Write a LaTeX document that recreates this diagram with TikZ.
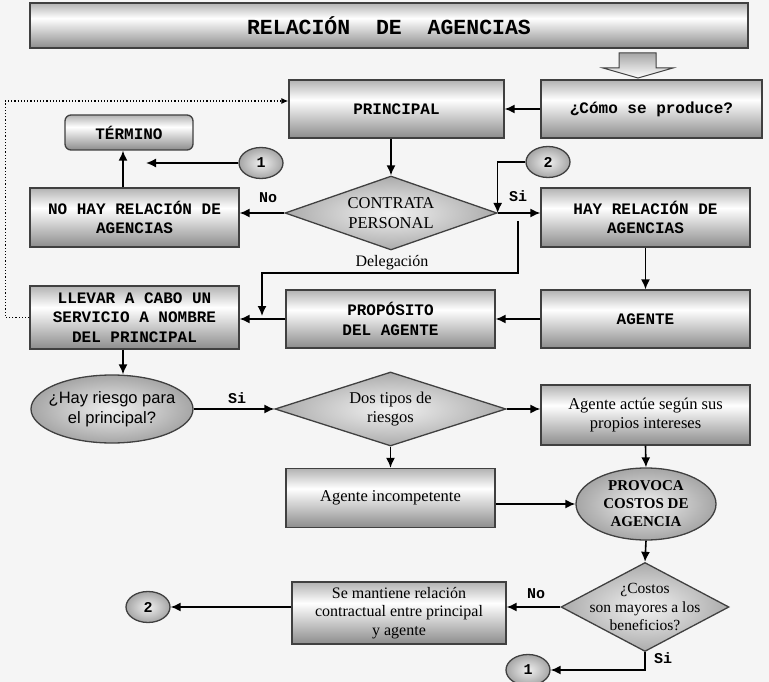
\documentclass[tikz,border=0pt]{standalone}
\usepackage{fontspec}
\setmainfont{Liberation Serif}
\setsansfont{Liberation Sans}
\setmonofont{Liberation Mono}
\usepackage{tikz}
\usetikzlibrary{shapes.geometric, arrows.meta}

\pgfdeclareverticalshading{caja}{100bp}{color(0bp)=(black!45); color(25bp)=(black!45); color(58bp)=(white); color(75bp)=(black!30); color(100bp)=(black!30)}

\tikzset{
    caja/.style={draw=black!75, line width=1.3pt, shade, shading=caja, rectangle, align=center,
        inner sep=2pt, font=\ttfamily\bfseries\fontsize{16}{19.5}\selectfont},
    cajatx/.style={caja, font=\fontsize{16.5}{19.5}\selectfont},
    rombo/.style={draw=black!75, line width=1.3pt, diamond, inner sep=-15pt, inner color=black!5,
        outer color=black!33, align=center, font=\fontsize{16.5}{19.5}\selectfont},
    elipse/.style={draw=black!75, line width=1.3pt, ellipse, inner sep=-10pt, inner color=black!6,
        outer color=black!35, align=center},
    circulo/.style={elipse, inner sep=0pt, minimum width=44pt, minimum height=31pt,
        font=\ttfamily\bfseries\fontsize{15}{15}\selectfont},
    flecha/.style={->, line width=1.6pt},
    etiq/.style={inner sep=0pt, font=\ttfamily\bfseries\fontsize{15}{15}\selectfont},
}

\begin{document}
\begin{tikzpicture}[>={Latex[length=10pt, width=9pt]}, x=1pt, y=-1pt]
    % 0. Nền của hình
    \useasboundingbox (0,0) rectangle (769,682);
    \fill[black!4] (0,0) rectangle (769,682);

    % 1. Tiêu đề và mũi tên lớn
    \node[caja, minimum width=718pt, minimum height=45pt,
        font=\ttfamily\bfseries\fontsize{21.5}{24}\selectfont] (titulo) at (389,25.5)
        {RELACIÓN\ \ DE\ \ AGENCIAS};
    \shade[top color=black!35, bottom color=white, draw=black!75, line width=1pt]
        (619,53) -- (656,53) -- (656,68) -- (673,68) -- (638,78) -- (603,68) -- (619,68) -- cycle;

    % 2. Các hộp phía trên
    \node[caja, minimum width=215pt, minimum height=58pt] (principal) at (396.5,109) {PRINCIPAL};
    \node[caja, minimum width=221pt, minimum height=58pt] (como) at (651.5,109) {¿Cómo se produce?};
    \node[caja, rounded corners=6pt, minimum width=128pt, minimum height=35pt] (termino) at (129,132.5) {TÉRMINO};
    \node[circulo] (uno_a) at (261,163) {1};
    \node[circulo] (dos_a) at (548,162) {2};
    \node[caja, minimum width=209pt, minimum height=59pt] (nohay) at (134.5,217.5) {NO HAY RELACIÓN DE\\AGENCIAS};
    \node[rombo, aspect=2.86, minimum width=212pt, minimum height=74pt] (contrata) at (391,213) {CONTRATA\\PERSONAL};
    \node[caja, minimum width=209pt, minimum height=59pt] (hay) at (645.5,217.5) {HAY RELACIÓN DE\\AGENCIAS};
    \node[caja, minimum width=209pt, minimum height=63pt] (llevar) at (134.5,317.5) {LLEVAR A CABO UN\\SERVICIO A NOMBRE\\DEL PRINCIPAL};
    \node[caja, minimum width=209pt, minimum height=58pt] (proposito) at (390.5,319) {PROPÓSITO\\DEL AGENTE};
    \node[caja, minimum width=209pt, minimum height=58pt] (agente) at (645.5,319) {AGENTE};

    % 3. Phần dưới: rủi ro và chi phí
    \node[elipse, minimum width=162pt, minimum height=68pt,
        font=\sffamily\fontsize{16.5}{19.5}\selectfont] (riesgo) at (112,409) {¿Hay riesgo para\\el principal?};
    \node[rombo, aspect=3.1, minimum width=231pt, minimum height=74pt] (dostipos) at (390.5,409) {Dos tipos de\\riesgos};
    \node[cajatx, minimum width=209pt, minimum height=60pt] (actue) at (645.5,415) {Agente actúe según sus\\propios intereses};
    \node[cajatx, minimum width=209pt, minimum height=59pt] (incompetente) at (390.5,498) {Agente incompetente};
    \node[elipse, minimum width=140pt, minimum height=72pt,
        font=\bfseries\fontsize{15}{18}\selectfont] (provoca) at (646,504) {PROVOCA\\COSTOS DE\\AGENCIA};
    \node[rombo, aspect=1.89, minimum width=168pt, minimum height=89pt,
        font=\fontsize{15.5}{18.5}\selectfont] (costos) at (645,607) {¿Costos\\son mayores a los\\beneficios?};
    \node[cajatx, minimum width=214pt, minimum height=62pt,
        font=\fontsize{16}{18.5}\selectfont] (semantiene) at (399,613) {Se mantiene relación\\contractual entre principal\\y agente};
    \node[circulo] (dos_b) at (148,607) {2};
    \node[circulo] (uno_b) at (528,670) {1};

    % 4. Nhãn trên các mũi tên
    \node[etiq] (lno1) at (268,198) {No};
    \node[etiq] (lsi1) at (518,196) {Si};
    \node[inner sep=0pt, font=\fontsize{16}{16}\selectfont] (ldeleg) at (392,263) {Delegación};
    \node[etiq] (lsi2) at (237,398) {Si};
    \node[etiq] (lno2) at (536,594) {No};
    \node[etiq] (lsi3) at (663,658) {Si};

    \coordinate (fin1) at (146,163);
    \coordinate (deleg) at (518,221);
    \coordinate (deleg2) at (262,316);

    % 5. Các mũi tên nối
    \draw[flecha] (como.west) -- (principal.east);
    \draw[flecha] (contrata.north |- principal.south) -- (contrata.north);
    \draw[flecha] (contrata.west) -- (contrata.west -| nohay.east);
    \draw[flecha] (contrata.east) -- (contrata.east -| hay.west);
    \draw[flecha] ([xshift=-6pt]termino.south |- nohay.north) -- ([xshift=-6pt]termino.south);
    \draw[flecha] (uno_a.west) -- (fin1);
    \draw[flecha] (dos_a.west) -| (contrata.east);
    \draw[flecha] (deleg) -- ++(0,52) -| (deleg2);
    \draw[flecha] (hay.south) -- (agente.north);
    \draw[flecha] (agente.west) -- (proposito.east);
    \draw[flecha] (proposito.west) -- (proposito.west -| llevar.east);
    \draw[dotted, line width=1.2pt, -{Latex[length=7pt, width=6pt]}]
        (llevar.west) -- ++(-24,0) |- ([yshift=8pt]principal.west);
    \draw[flecha] ([xshift=-11.5pt]llevar.south) -- ([xshift=-11.5pt]llevar.south |- riesgo.north);
    \draw[flecha] (riesgo.east) -- (dostipos.west);
    \draw[flecha] (dostipos.east) -- (dostipos.east -| actue.west);
    \draw[flecha] (dostipos.south) -- (incompetente.north);
    \draw[flecha] (actue.south) -- (provoca.north);
    \draw[flecha] (incompetente.east |- provoca.west) -- (provoca.west);
    \draw[flecha] (provoca.south) -- (costos.north);
    \draw[flecha] (costos.west) -- (costos.west -| semantiene.east);
    \draw[flecha] (semantiene.west |- dos_b.east) -- (dos_b.east);
    \draw[flecha] (costos.south) |- (uno_b.east);
\end{tikzpicture}
\end{document}
